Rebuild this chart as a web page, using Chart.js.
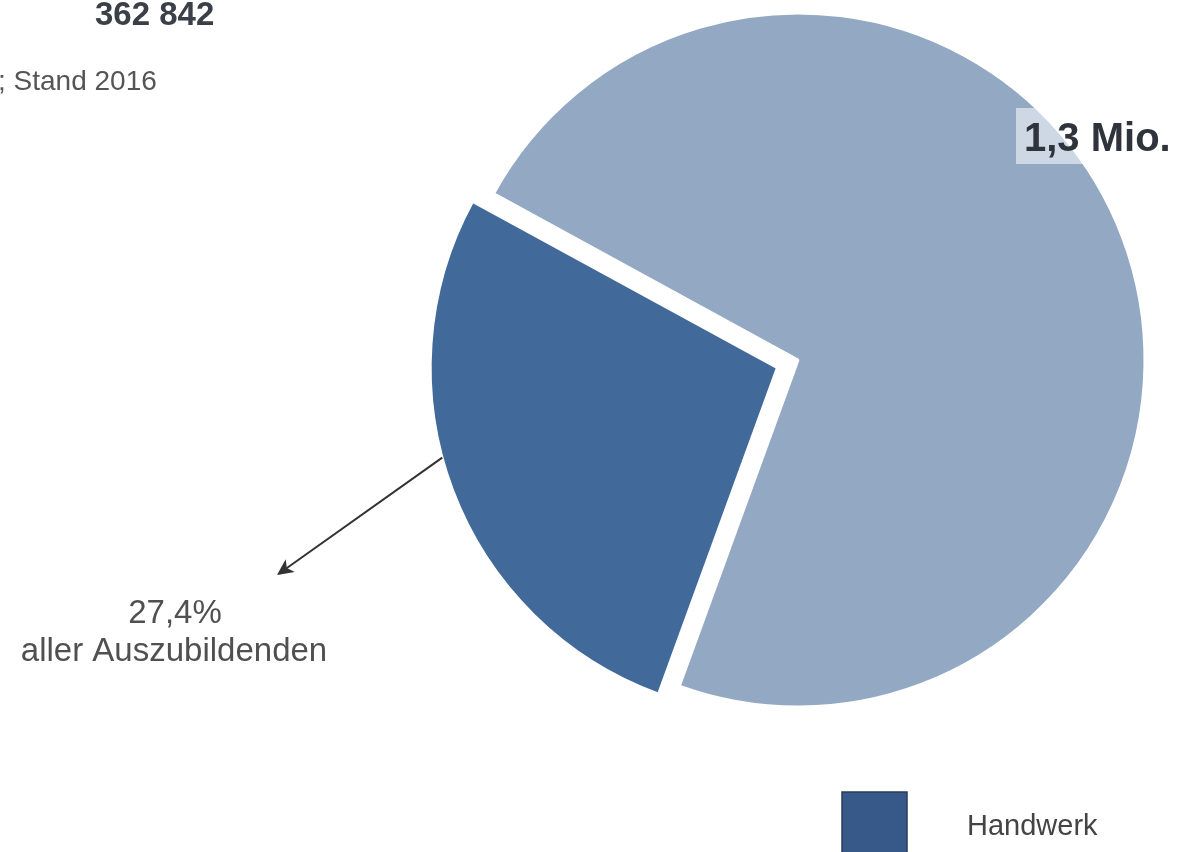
<!DOCTYPE html>
<html>
<head>
<meta charset="utf-8">
<script src="https://cdn.jsdelivr.net/npm/chart.js@4/dist/chart.umd.min.js"></script>
<style>
  html, body { margin: 0; padding: 0; background: #fff; }
  #wrap { width: 1186px; height: 852px; position: relative; }
</style>
</head>
<body>
<div id="wrap"><canvas id="azubiChart"></canvas></div>
<script>
// Anteile an allen Auszubildenden (Stand 2016)
const labels = ['Handwerk', 'Andere Bereiche'];
const anteile = [27.4, 72.6];
const farben = ['#41699a', '#93a8c3'];

const handwerkAbsolut = '362 842';
const gesamtText = '1,3 Mio.';
const quelleText = '; Stand 2016';
const anteilText = ['27,4%', 'aller Auszubildenden'];

const FONT = '"Liberation Sans", Arial, Helvetica, sans-serif';

// Texte, Pfeil und Legende direkt auf die Leinwand zeichnen
const beschriftung = {
    id: 'beschriftung',
    afterDraw(chart) {
        const ctx = chart.ctx;
        const arc = chart.getDatasetMeta(0).data[0];
        ctx.save();

        ctx.fillStyle = '#3b4048';
        ctx.font = 'bold 33px ' + FONT;
        ctx.textAlign = 'left';
        ctx.textBaseline = 'alphabetic';
        ctx.fillText(handwerkAbsolut, 95, 25);

        ctx.fillStyle = '#555';
        ctx.font = '28px ' + FONT;
        ctx.fillText(quelleText, -2, 90);

        // helles Feld hinter "1,3 Mio."
        ctx.fillStyle = 'rgba(255,255,255,0.55)';
        ctx.fillRect(1016, 108, 170, 56);
        ctx.fillStyle = '#2f343c';
        ctx.font = 'bold 40px ' + FONT;
        ctx.fillText(gesamtText, 1024, 151);

        // Pfeil vom Handwerk-Segment zur Beschriftung
        // (Chart.js verschiebt das Segment um offset / 4)
        const winkel = 165 * Math.PI / 180;
        const off = arc.options.offset / 4;
        const mid = (arc.startAngle + arc.endAngle) / 2;
        const x0 = arc.x + Math.cos(mid) * off + Math.cos(winkel) * arc.outerRadius;
        const y0 = arc.y + Math.sin(mid) * off + Math.sin(winkel) * arc.outerRadius;
        const x1 = 277, y1 = 575;
        const a = Math.atan2(y1 - y0, x1 - x0);
        ctx.strokeStyle = '#333';
        ctx.lineWidth = 2;
        ctx.beginPath();
        ctx.moveTo(x0, y0);
        ctx.lineTo(x1 - Math.cos(a) * 10, y1 - Math.sin(a) * 10);
        ctx.stroke();
        ctx.fillStyle = '#333';
        ctx.beginPath();
        ctx.moveTo(x1, y1);
        ctx.lineTo(x1 - Math.cos(a - 0.45) * 18, y1 - Math.sin(a - 0.45) * 18);
        ctx.lineTo(x1 - Math.cos(a) * 12, y1 - Math.sin(a) * 12);
        ctx.lineTo(x1 - Math.cos(a + 0.45) * 18, y1 - Math.sin(a + 0.45) * 18);
        ctx.closePath();
        ctx.fill();

        ctx.fillStyle = '#505050';
        ctx.font = '33px ' + FONT;
        ctx.textAlign = 'center';
        ctx.fillText(anteilText[0], 175, 623);
        ctx.fillText(anteilText[1], 174, 661);

        // Legende
        ctx.fillStyle = '#37598a';
        ctx.fillRect(842, 792, 65, 65);
        ctx.strokeStyle = '#2a3d5a';
        ctx.lineWidth = 1.5;
        ctx.strokeRect(842, 792, 65, 65);
        ctx.fillStyle = '#444';
        ctx.font = '29px ' + FONT;
        ctx.textAlign = 'left';
        ctx.fillText(labels[0], 967, 835);

        ctx.restore();
    }
};

new Chart(document.getElementById('azubiChart'), {
    type: 'pie',
    data: {
        labels: labels,
        datasets: [{
            data: anteile,
            backgroundColor: farben,
            borderColor: '#ffffff',
            borderWidth: 3,
            offset: [88, 0]
        }]
    },
    options: {
        responsive: true,
        maintainAspectRatio: false,
        animation: false,
        rotation: 200,
        radius: 347,
        layout: {
            padding: { left: 410, right: 0, top: 0, bottom: 132 }
        },
        plugins: {
            legend: { display: false },
            tooltip: { enabled: false }
        }
    },
    plugins: [beschriftung]
});
</script>
</body>
</html>
